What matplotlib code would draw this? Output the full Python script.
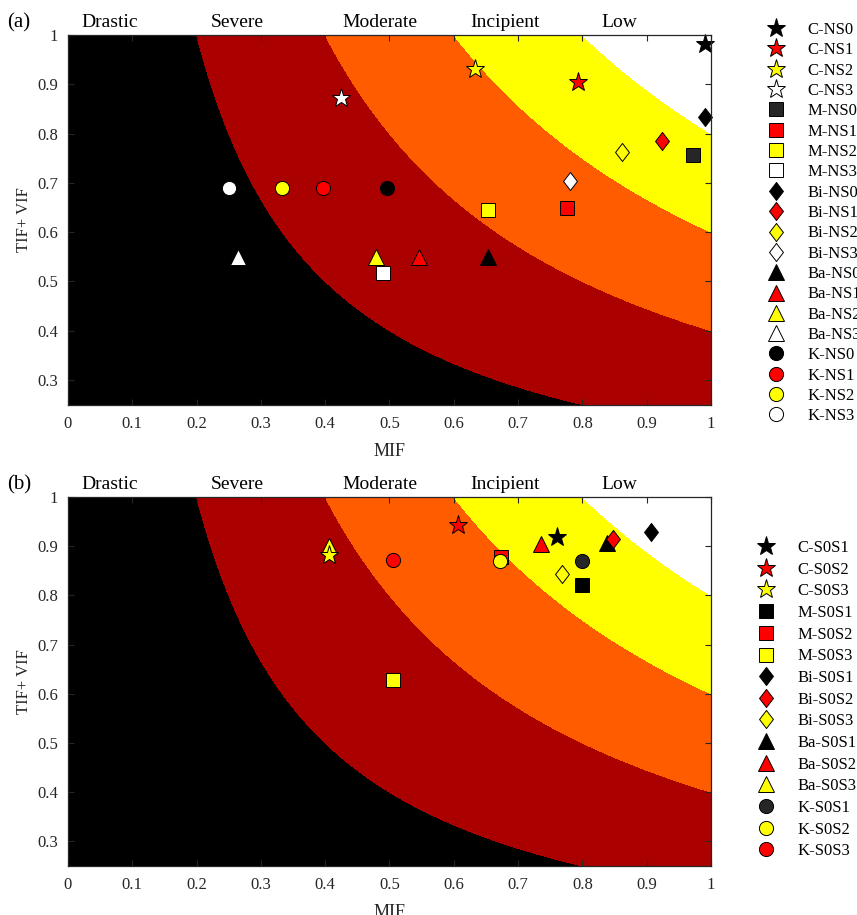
import numpy as np
import matplotlib
matplotlib.use("Agg")
import matplotlib.pyplot as plt
from matplotlib.ticker import FuncFormatter
from matplotlib.transforms import blended_transform_factory
from matplotlib.path import Path

plt.rcParams['font.family'] = ['Liberation Serif', 'DejaVu Serif']

# ---------------- data ----------------
zones = ["Drastic", "Severe", "Moderate", "Incipient", "Low"]
zone_bounds = [0.0, 0.2, 0.4, 0.6, 0.8, 1.0001]

labels_a = ["C-NS0", "C-NS1", "C-NS2", "C-NS3",
            "M-NS0", "M-NS1", "M-NS2", "M-NS3",
            "Bi-NS0", "Bi-NS1", "Bi-NS2", "Bi-NS3",
            "Ba-NS0", "Ba-NS1", "Ba-NS2", "Ba-NS3",
            "K-NS0", "K-NS1", "K-NS2", "K-NS3"]
mif_a = [0.991, 0.793, 0.633, 0.424,
         0.972, 0.776, 0.653, 0.490,
         0.991, 0.924, 0.862, 0.781,
         0.653, 0.546, 0.479, 0.265,
         0.496, 0.396, 0.333, 0.250]
tifvif_a = [0.982, 0.904, 0.931, 0.873,
            0.756, 0.650, 0.645, 0.517,
            0.834, 0.784, 0.762, 0.704,
            0.550, 0.550, 0.550, 0.550,
            0.690, 0.690, 0.690, 0.690]

labels_b = ["C-S0S1", "C-S0S2", "C-S0S3",
            "M-S0S1", "M-S0S2", "M-S0S3",
            "Bi-S0S1", "Bi-S0S2", "Bi-S0S3",
            "Ba-S0S1", "Ba-S0S2", "Ba-S0S3",
            "K-S0S1", "K-S0S2", "K-S0S3"]
mif_b = [0.760, 0.607, 0.406,
         0.800, 0.673, 0.506,
         0.907, 0.847, 0.768,
         0.839, 0.736, 0.406,
         0.799, 0.672, 0.505]
tifvif_b = [0.918, 0.943, 0.882,
            0.822, 0.879, 0.629,
            0.928, 0.914, 0.843,
            0.907, 0.904, 0.900,
            0.870, 0.870, 0.871]

xticks = [0, 0.1, 0.2, 0.3, 0.4, 0.5, 0.6, 0.7, 0.8, 0.9, 1]
yticks = [0.3, 0.4, 0.5, 0.6, 0.7, 0.8, 0.9, 1]

# ---------------- styles ----------------
zone_colors = ["#000000", "#AA0000", "#FF5C00", "#FFFF00", "#FFFFFF"]
zone_label_x = [0.065, 0.264, 0.485, 0.680, 0.857]

diamond = Path([(0, 1), (0.77, 0), (0, -1), (-0.77, 0), (0, 1)],
               [Path.MOVETO, Path.LINETO, Path.LINETO, Path.LINETO, Path.CLOSEPOLY])
mstyle = {"C": ("*", 14, 5), "M": ("s", 10.5, 3), "Bi": (diamond, 13, 5),
          "Ba": ("^", 12, 3), "K": ("o", 10.2, 4)}
DG = "#262626"
colors_a = ["k", "r", "yellow", "w", DG, "r", "yellow", "w",
            "k", "r", "yellow", "w", "k", "r", "yellow", "w",
            "k", "r", "yellow", "w"]
colors_b = ["k", "r", "yellow", "k", "r", "yellow", "k", "r", "yellow",
            "k", "r", "yellow", DG, "yellow", "r"]

fig = plt.figure(figsize=(8.57, 9.15), dpi=100)
ax_a = fig.add_axes([0.0793, 0.5578, 0.7503, 0.4039])
ax_b = fig.add_axes([0.0793, 0.0536, 0.7503, 0.4032])

X, Y = np.meshgrid(np.linspace(0, 1, 1200), np.linspace(0.25, 1, 900))


def panel(ax, labels, xs, ys, cols, tag, leg_anchor, spacing):
    ax.contourf(X, Y, X * Y, levels=zone_bounds, colors=zone_colors, zorder=0)
    for lab, x, y, c in zip(labels, xs, ys, cols):
        key = lab.split("-")[0]
        m, ms, z = mstyle[key]
        ax.plot([x], [y], linestyle="none", marker=m, markersize=ms,
                markerfacecolor=c, markeredgecolor="k", markeredgewidth=0.7,
                label=lab, clip_on=False, zorder=z)
    ax.set_xlim(0, 1)
    ax.set_ylim(0.25, 1)
    ax.set_xticks(xticks)
    ax.set_yticks(yticks)
    fmt = FuncFormatter(lambda v, p: ("%g" % v))
    ax.xaxis.set_major_formatter(fmt)
    ax.yaxis.set_major_formatter(fmt)
    ax.tick_params(direction="in", top=True, right=True, length=4.5, width=0.8,
                   labelsize=12, colors=DG, pad=7)
    ax.tick_params(axis="x", pad=8)
    for s in ax.spines.values():
        s.set_color(DG)
        s.set_linewidth(0.9)
        s.set_zorder(6)
    ax.set_xlabel("MIF", fontsize=13, color=DG, labelpad=8)
    ax.set_ylabel("TIF+ VIF", fontsize=12, color=DG, labelpad=4)
    tr = blended_transform_factory(ax.transData, ax.transAxes)
    for zx, zn in zip(zone_label_x, zones):
        ax.text(zx, 1.021, zn, transform=tr, ha="center", va="baseline",
                fontsize=14, color="k")
    ax.text(-0.094, 1.021, tag, transform=ax.transAxes, ha="left",
            va="baseline", fontsize=15)
    leg = ax.legend(loc="upper left", bbox_to_anchor=leg_anchor,
                    bbox_transform=fig.transFigure, frameon=False,
                    borderaxespad=0, borderpad=0, handlelength=1.5,
                    handletextpad=1.15, labelspacing=spacing, fontsize=12,
                    numpoints=1)
    return leg


panel(ax_a, labels_a, mif_a, tifvif_a, colors_a, "(a)",
      (763.5 / 857, 1 - 22 / 915), 0.26)
panel(ax_b, labels_b, mif_b, tifvif_b, colors_b, "(b)",
      (753.5 / 857, 1 - 540 / 915), 0.34)

fig.savefig("out.png", dpi=100)
